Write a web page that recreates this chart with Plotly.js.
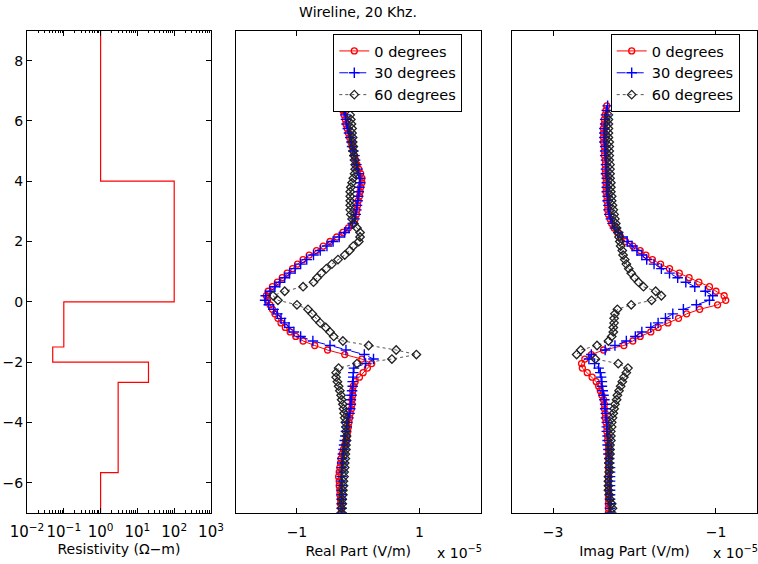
<!DOCTYPE html>
<html>
<head>
<meta charset="utf-8">
<script src="https://cdn.plot.ly/plotly-3.0.1.min.js"></script>
<style>html,body{margin:0;padding:0;background:#fff;}#chart{width:758px;height:564px;}</style>
</head>
<body>
<div id="chart"></div>
<script>
// ---- Data ----
const chartTitle = 'Wireline, 20 Khz.';
const seriesNames = ['0 degrees', '30 degrees', '60 degrees'];

// Resistivity layer model (depth in m, resistivity in ohm-m)
const layerTop    = [9, 4, 0, -1.5, -2, -2.67, -5.67];
const layerBottom = [4, 0, -1.5, -2, -2.67, -5.67, -7];
const resistivity = [1, 100, 0.1, 0.05, 20, 3, 1];

// Tool positions (depth)
const depth = [
  6.5, 6.35, 6.2, 6.05, 5.9, 5.75, 5.6, 5.45, 5.3, 5.15,
  5.0, 4.85, 4.7, 4.55, 4.4, 4.25, 4.1, 3.95, 3.8, 3.65,
  3.5, 3.35, 3.2, 3.05, 2.9, 2.75, 2.6, 2.45, 2.3, 2.15,
  2.0, 1.85, 1.7, 1.55, 1.4, 1.25, 1.1, 0.95, 0.8, 0.65,
  0.5, 0.35, 0.2, 0.05, -0.1, -0.25, -0.4, -0.55, -0.7, -0.85,
  -1.0, -1.15, -1.3, -1.45, -1.6, -1.75, -1.9, -2.05, -2.2, -2.35,
  -2.5, -2.65, -2.8, -2.95, -3.1, -3.25, -3.4, -3.55, -3.7, -3.85,
  -4.0, -4.15, -4.3, -4.45, -4.6, -4.75, -4.9, -5.05, -5.2, -5.35,
  -5.5, -5.65, -5.8, -5.95, -6.1, -6.25, -6.4, -6.55, -6.7, -6.85,
  -7.0
];

// Real part (x 1e-5 V/m)
const real0 = [
  -0.27,-0.25,-0.23,-0.21,-0.20,-0.18,-0.16,-0.14,-0.12,-0.10,
  -0.08,-0.06,-0.04,-0.02,0.01,0.04,0.06,0.06,0.04,0.03,
  0.02,0.00,-0.01,-0.02,-0.03,-0.05,-0.08,-0.16,-0.25,-0.35,
  -0.46,-0.57,-0.68,-0.80,-0.90,-0.99,-1.07,-1.16,-1.24,-1.32,
  -1.40,-1.47,-1.50,-1.48,-1.44,-1.40,-1.36,-1.31,-1.26,-1.19,
  -1.11,-1.02,-0.90,-0.71,-0.50,-0.22,0.06,0.22,0.15,0.08,
  0.02,-0.05,-0.08,-0.09,-0.09,-0.10,-0.10,-0.11,-0.13,-0.14,
  -0.15,-0.16,-0.17,-0.18,-0.20,-0.22,-0.24,-0.26,-0.28,-0.29,
  -0.30,-0.31,-0.32,-0.31,-0.31,-0.30,-0.30,-0.29,-0.29,-0.28,
  -0.28
];
const real30 = [
  -0.24,-0.23,-0.21,-0.20,-0.19,-0.17,-0.15,-0.13,-0.11,-0.10,
  -0.08,-0.06,-0.05,-0.03,-0.01,0.01,0.03,0.03,0.02,0.01,
  0.00,-0.01,-0.02,-0.03,-0.04,-0.06,-0.09,-0.15,-0.22,-0.31,
  -0.41,-0.51,-0.62,-0.73,-0.84,-0.94,-1.03,-1.12,-1.20,-1.28,
  -1.36,-1.44,-1.51,-1.52,-1.46,-1.38,-1.32,-1.26,-1.20,-1.13,
  -1.05,-0.94,-0.74,-0.46,-0.20,0.10,0.25,0.12,-0.07,-0.08,
  -0.08,-0.09,-0.09,-0.10,-0.11,-0.12,-0.12,-0.13,-0.14,-0.16,
  -0.18,-0.19,-0.20,-0.21,-0.22,-0.23,-0.24,-0.25,-0.26,-0.26,
  -0.27,-0.27,-0.27,-0.27,-0.27,-0.27,-0.27,-0.27,-0.27,-0.27,
  -0.27
];
const real60 = [
  null,null,-0.13,-0.12,-0.11,-0.10,-0.10,-0.09,-0.09,-0.08,
  -0.08,-0.07,-0.06,-0.05,-0.05,-0.06,-0.08,-0.10,-0.12,-0.13,
  -0.13,-0.13,-0.13,-0.13,-0.12,-0.10,-0.07,-0.02,0.03,0.03,
  0.01,-0.08,-0.14,-0.22,-0.33,-0.43,-0.52,-0.60,-0.67,-0.73,
  -0.90,-1.20,-1.39,-1.31,-1.00,-0.82,-0.75,-0.69,-0.62,-0.53,
  -0.46,-0.40,-0.25,0.17,0.62,0.95,0.55,-0.02,-0.32,-0.36,
  -0.36,-0.34,-0.32,-0.30,-0.28,-0.27,-0.25,-0.24,-0.23,-0.22,
  -0.21,-0.20,-0.20,-0.19,-0.19,-0.20,-0.20,-0.21,-0.21,-0.22,
  -0.22,-0.23,-0.23,-0.24,-0.24,-0.25,-0.25,-0.26,-0.26,-0.27,
  -0.27
];

// Imaginary part (x 1e-5 V/m)
const imag0 = [
  -2.34,-2.35,-2.36,-2.37,-2.37,-2.38,-2.38,-2.38,-2.38,-2.37,
  -2.37,-2.37,-2.36,-2.36,-2.36,-2.36,-2.35,-2.35,-2.35,-2.35,
  -2.34,-2.34,-2.33,-2.33,-2.32,-2.30,-2.28,-2.25,-2.21,-2.17,
  -2.11,-2.02,-1.93,-1.86,-1.78,-1.68,-1.57,-1.45,-1.33,-1.21,
  -1.08,-1.00,-0.90,-0.88,-0.98,-1.20,-1.36,-1.46,-1.59,-1.71,
  -1.80,-1.93,-2.02,-2.13,-2.38,-2.53,-2.61,-2.65,-2.64,-2.58,
  -2.52,-2.47,-2.44,-2.42,-2.40,-2.38,-2.37,-2.37,-2.36,-2.36,
  -2.35,-2.34,-2.34,-2.33,-2.33,-2.32,-2.32,-2.32,-2.32,-2.32,
  -2.32,-2.32,-2.32,-2.32,-2.32,-2.32,-2.32,-2.32,-2.32,-2.32,
  -2.32
];
const imag30 = [
  -2.33,-2.34,-2.35,-2.36,-2.36,-2.37,-2.37,-2.37,-2.37,-2.36,
  -2.36,-2.36,-2.35,-2.35,-2.35,-2.35,-2.34,-2.34,-2.34,-2.34,
  -2.33,-2.33,-2.32,-2.32,-2.31,-2.29,-2.27,-2.24,-2.20,-2.15,
  -2.09,-2.03,-1.97,-1.91,-1.85,-1.76,-1.67,-1.57,-1.47,-1.37,
  -1.26,-1.13,-1.04,-1.08,-1.24,-1.40,-1.53,-1.62,-1.71,-1.80,
  -1.91,-1.99,-2.10,-2.24,-2.36,-2.53,-2.56,-2.49,-2.44,-2.42,
  -2.41,-2.40,-2.40,-2.39,-2.38,-2.37,-2.36,-2.36,-2.35,-2.35,
  -2.34,-2.34,-2.34,-2.33,-2.33,-2.33,-2.32,-2.32,-2.31,-2.31,
  -2.30,-2.30,-2.30,-2.30,-2.30,-2.30,-2.30,-2.30,-2.30,-2.30,
  -2.30
];
const imag60 = [
  null,null,-2.32,-2.32,-2.32,-2.32,-2.32,-2.32,-2.31,-2.31,
  -2.31,-2.31,-2.31,-2.30,-2.30,-2.30,-2.30,-2.29,-2.29,-2.29,
  -2.28,-2.28,-2.27,-2.26,-2.25,-2.24,-2.23,-2.22,-2.20,-2.19,
  -2.18,-2.17,-2.15,-2.14,-2.12,-2.10,-2.07,-2.04,-2.00,-1.95,
  -1.89,-1.74,-1.67,-1.79,-2.04,-2.21,-2.24,-2.25,-2.25,-2.26,
  -2.26,-2.28,-2.32,-2.46,-2.66,-2.71,-2.48,-2.20,-2.08,-2.10,
  -2.13,-2.15,-2.17,-2.19,-2.21,-2.22,-2.24,-2.25,-2.26,-2.27,
  -2.28,-2.28,-2.29,-2.29,-2.29,-2.30,-2.30,-2.30,-2.31,-2.31,
  -2.31,-2.31,-2.32,-2.32,-2.32,-2.32,-2.31,-2.30,-2.28,-2.27,
  -2.28
];

const depthTicks = [-6, -4, -2, 0, 2, 4, 6, 8];
const resTicks = [0.01, 0.1, 1, 10, 100, 1000];
const resTickText = ['10<sup>−2</sup>', '10<sup>−1</sup>', '10<sup>0</sup>', '10<sup>1</sup>', '10<sup>2</sup>', '10<sup>3</sup>'];
const realTicks = [-1, 1];
const imagTicks = [-3, -1];

// ---- Build ----
const FONT = 'DejaVu Sans, Liberation Sans, Arial, sans-serif';
const W = 758, H = 564;
const px = v => v / W;
const py = v => 1 - v / H;

const stepX = [], stepY = [];
for (let i = 0; i < resistivity.length; i++) {
  stepX.push(resistivity[i], resistivity[i]);
  stepY.push(layerTop[i], layerBottom[i]);
}

// minor ticks of the log axis: 2..9 within each decade
const minorTicks = [];
for (let d = 0; d < resTicks.length - 1; d++) {
  for (let m = 2; m <= 9; m++) minorTicks.push(resTicks[d] * m);
}

const styles = [
  {line: {color: '#ff0000', width: 1, dash: 'solid'},
   marker: {symbol: 'circle-open', size: 6, color: '#ff0000', line: {width: 1.3, color: '#ff0000'}}},
  {line: {color: '#0000ff', width: 1, dash: 'dash'},
   marker: {symbol: 'cross-thin', size: 7.5, color: '#0000ff', line: {width: 1.4, color: '#0000ff'}}},
  {line: {color: '#555555', width: 1, dash: 'dot'},
   marker: {symbol: 'diamond-open', size: 6.5, color: '#222222', line: {width: 1.3, color: '#222222'}}}
];

const traces = [{
  x: stepX, y: stepY, xaxis: 'x', yaxis: 'y', mode: 'lines',
  line: {color: '#ff0000', width: 1.2}, showlegend: false, name: 'Resistivity'
}];

const realSeries = [real0, real30, real60];
const imagSeries = [imag0, imag30, imag60];
realSeries.forEach((s, i) => traces.push({
  x: s, y: depth, xaxis: 'x2', yaxis: 'y2', mode: 'lines+markers', name: seriesNames[i],
  line: styles[i].line, marker: styles[i].marker, legend: 'legend', connectgaps: false
}));
imagSeries.forEach((s, i) => traces.push({
  x: s, y: depth, xaxis: 'x3', yaxis: 'y3', mode: 'lines+markers', name: seriesNames[i],
  line: styles[i].line, marker: styles[i].marker, legend: 'legend2', connectgaps: false
}));

const yDom = [1 - 512.8 / H, 1 - 30.5 / H];
const axBase = {
  showline: true, linecolor: '#000', linewidth: 1, showgrid: false, zeroline: false,
  ticks: 'inside', ticklen: 5, tickcolor: '#000', mirror: 'ticks',
  tickfont: {family: FONT, size: 14, color: '#000'}
};
const titleFont = {family: FONT, size: 14, color: '#000'};

const legendBase = {
  xanchor: 'left', yanchor: 'top', bgcolor: '#fff', bordercolor: '#000', borderwidth: 1,
  font: {family: FONT, size: 14.5, color: '#000'}, tracegroupgap: 0, itemwidth: 30
};

const layout = {
  width: W, height: H, margin: {l: 0, r: 0, t: 0, b: 0},
  paper_bgcolor: '#fff', plot_bgcolor: '#fff',
  font: {family: FONT, size: 14, color: '#000'},
  title: {text: chartTitle, font: {family: FONT, size: 14, color: '#000'},
          x: px(358), xanchor: 'center', y: py(12), yanchor: 'middle'},
  xaxis: Object.assign({}, axBase, {
    domain: [px(27), px(211)], anchor: 'y', type: 'log', range: [-2, 3],
    tickmode: 'array', tickvals: resTicks, ticktext: resTickText, ticklabelstandoff: 5,
    tickfont: {family: FONT, size: 15, color: '#000'},
    minor: {ticks: 'inside', ticklen: 2.5, tickcolor: '#000', tickmode: 'array', tickvals: minorTicks, showgrid: false},
    title: {text: 'Resistivity (Ω−m)', font: titleFont, standoff: 4}
  }),
  yaxis: Object.assign({}, axBase, {
    domain: yDom, anchor: 'x', range: [-7, 9], tickmode: 'array', tickvals: depthTicks
  }),
  xaxis2: Object.assign({}, axBase, {
    domain: [px(235.7), px(480.7)], anchor: 'y2', range: [-2, 2],
    tickmode: 'array', tickvals: realTicks, ticklabelstandoff: 6,
    title: {text: 'Real Part (V/m)', font: titleFont, standoff: 7}
  }),
  yaxis2: Object.assign({}, axBase, {
    domain: yDom, anchor: 'x2', range: [-7, 9], ticks: '', showticklabels: false, mirror: true
  }),
  xaxis3: Object.assign({}, axBase, {
    domain: [px(512.3), px(756.7)], anchor: 'y3', range: [-3.5, -0.5],
    tickmode: 'array', tickvals: imagTicks, ticklabelstandoff: 6,
    title: {text: 'Imag Part (V/m)', font: titleFont, standoff: 7}
  }),
  yaxis3: Object.assign({}, axBase, {
    domain: yDom, anchor: 'x3', range: [-7, 9], ticks: '', showticklabels: false, mirror: true
  }),
  legend: Object.assign({}, legendBase, {x: px(333.3), y: py(34)}),
  legend2: Object.assign({}, legendBase, {x: px(610.7), y: py(34)}),
  annotations: [
    {xref: 'paper', yref: 'paper', x: px(459), y: py(552), xanchor: 'center', yanchor: 'middle',
     text: 'x 10<sup>−5</sup>', showarrow: false, font: {family: FONT, size: 14, color: '#000'}},
    {xref: 'paper', yref: 'paper', x: px(735), y: py(552), xanchor: 'center', yanchor: 'middle',
     text: 'x 10<sup>−5</sup>', showarrow: false, font: {family: FONT, size: 14, color: '#000'}}
  ],
  showlegend: true
};

Plotly.newPlot('chart', traces, layout, {displayModeBar: false, staticPlot: true});
</script>
</body>
</html>
